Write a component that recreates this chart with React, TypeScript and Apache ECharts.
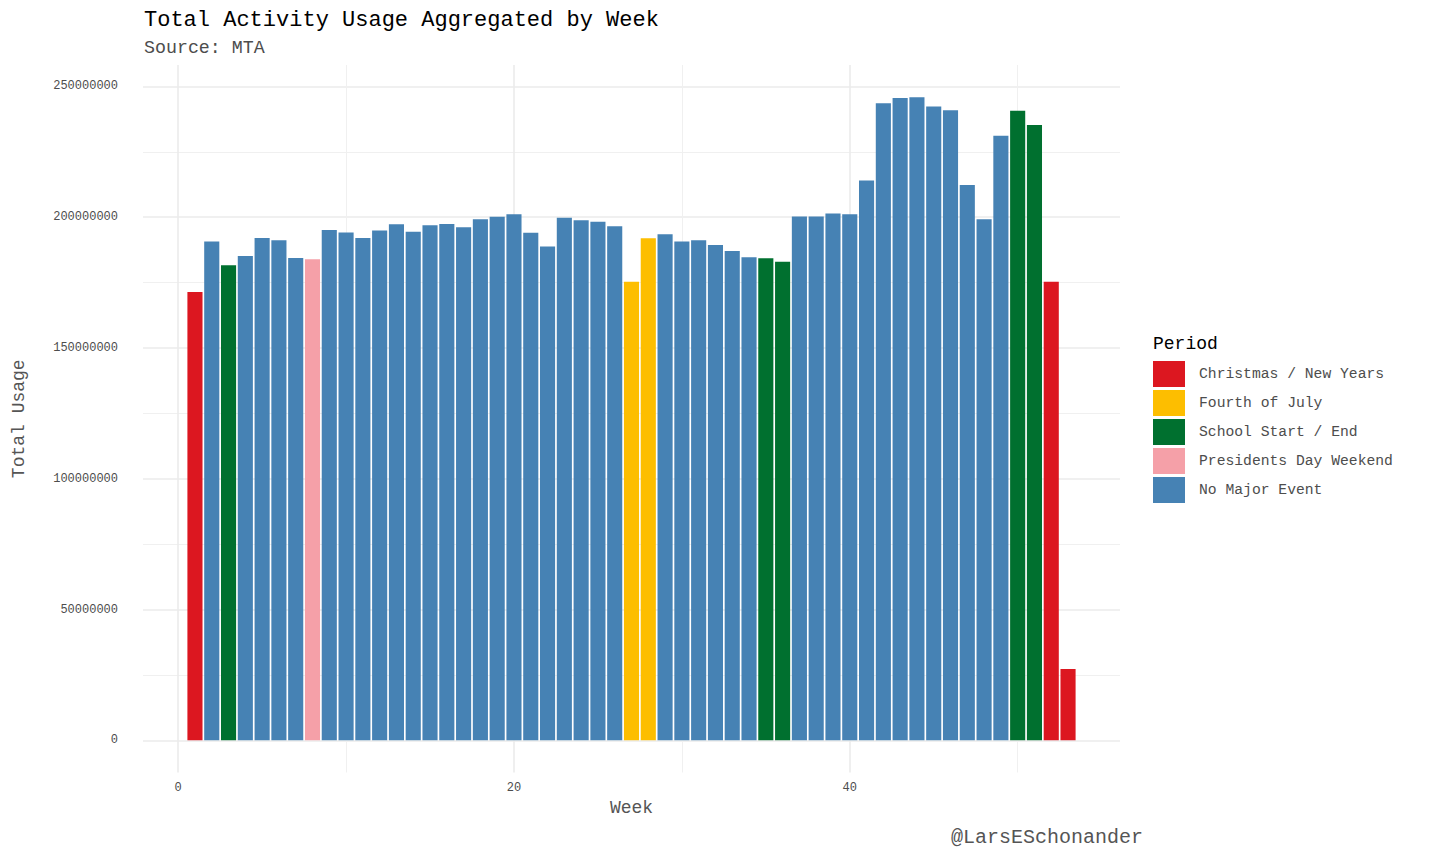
import React, { useEffect, useRef } from "react";
import * as echarts from "echarts";

const weeks = [
  1, 2, 3, 4, 5, 6, 7, 8, 9, 10, 11, 12, 13, 14, 15, 16, 17, 18, 19, 20, 21, 22, 23, 24, 25, 26, 27,
  28, 29, 30, 31, 32, 33, 34, 35, 36, 37, 38, 39, 40, 41, 42, 43, 44, 45, 46, 47, 48, 49, 50, 51, 52, 53,
];
const usage = [
  171.4, 190.7, 181.6, 185.2, 192.1, 191.2, 184.4, 183.9, 195.1, 194.2, 192.1, 194.9, 197.3, 194.4,
  196.9, 197.4, 196.2, 199.2, 200.2, 201.1, 194.1, 188.8, 199.8, 198.8, 198.3, 196.5, 175.3, 192.0,
  193.5, 190.7, 191.2, 189.4, 187.1, 184.7, 184.3, 183.0, 200.3, 200.3, 201.4, 201.1, 214.0, 243.6,
  245.6, 245.9, 242.3, 240.9, 212.3, 199.2, 231.1, 240.7, 235.3, 175.3, 27.3,
];
const periodOfWeek = [
  "Christmas / New Years", "No Major Event", "School Start / End", "No Major Event", "No Major Event",
  "No Major Event", "No Major Event", "Presidents Day Weekend", "No Major Event", "No Major Event",
  "No Major Event", "No Major Event", "No Major Event", "No Major Event", "No Major Event",
  "No Major Event", "No Major Event", "No Major Event", "No Major Event", "No Major Event",
  "No Major Event", "No Major Event", "No Major Event", "No Major Event", "No Major Event",
  "No Major Event", "Fourth of July", "Fourth of July", "No Major Event", "No Major Event",
  "No Major Event", "No Major Event", "No Major Event", "No Major Event", "School Start / End",
  "School Start / End", "No Major Event", "No Major Event", "No Major Event", "No Major Event",
  "No Major Event", "No Major Event", "No Major Event", "No Major Event", "No Major Event",
  "No Major Event", "No Major Event", "No Major Event", "No Major Event", "School Start / End",
  "School Start / End", "Christmas / New Years", "Christmas / New Years",
];
const periods = [
  "Christmas / New Years",
  "Fourth of July",
  "School Start / End",
  "Presidents Day Weekend",
  "No Major Event",
];
const periodColors = ["#DC1720", "#FDBE00", "#00702F", "#F5A0A8", "#4682B4"];
const yMajorTicks = [0, 50000000, 100000000, 150000000, 200000000, 250000000];
const yMinorTicks = [25000000, 75000000, 125000000, 175000000, 225000000];
const xMajorTicks = [0, 20, 40];
const xMinorTicks = [10, 30, 50];

const FONT = "'Liberation Mono', 'DejaVu Sans Mono', monospace";

export default function App() {
  const ref = useRef<HTMLDivElement>(null);

  useEffect(() => {
    if (!ref.current) return;
    const chart = echarts.init(ref.current, null, { renderer: "svg" });

    const maxVal = Math.max(...usage) * 1e6;
    const yPad = maxVal * 0.05;
    const xPad = (weeks[weeks.length - 1] - weeks[0] + 0.9) * 0.05;
    const xMin = weeks[0] - 0.45 - xPad;
    const xMax = weeks[weeks.length - 1] + 0.45 + xPad;

    const series: any[] = periods.map((p, i) => ({
      name: p,
      type: "bar",
      xAxisIndex: 0,
      yAxisIndex: 0,
      barGap: "-100%",
      barWidth: "90%",
      itemStyle: { color: periodColors[i] },
      data: weeks
        .map((w, k) => (periodOfWeek[k] === p ? [w, usage[k] * 1e6] : null))
        .filter((d) => d !== null),
    }));
    series.push({
      type: "line",
      xAxisIndex: 1,
      yAxisIndex: 1,
      data: [],
      silent: true,
    });

    const common = {
      axisLine: { show: false },
      axisTick: { show: false },
    };

    chart.setOption({
      animation: false,
      backgroundColor: "#ffffff",
      textStyle: { fontFamily: FONT },
      grid: { left: 143, right: 336, top: 65, bottom: 76.5, containLabel: false },
      xAxis: [
        {
          type: "value",
          min: xMin,
          max: xMax,
          ...common,
          axisTick: { show: false, customValues: xMajorTicks },
          axisLabel: {
            customValues: xMajorTicks,
            color: "#4D4D4D",
            fontSize: 12,
            fontFamily: FONT,
            margin: 9,
          },
          splitLine: { show: true, lineStyle: { color: "#EBEBEB", width: 1.6 } },
          name: "Week",
          nameLocation: "middle",
          nameGap: 26,
          nameTextStyle: { color: "#555555", fontSize: 18, fontFamily: FONT },
          z: 1,
        },
        {
          type: "value",
          min: xMin,
          max: xMax,
          ...common,
          axisTick: { show: false, customValues: xMinorTicks },
          axisLabel: { show: false, customValues: xMinorTicks },
          splitLine: { show: true, lineStyle: { color: "#F0F0F0", width: 1 } },
          z: 0,
        },
      ],
      yAxis: [
        {
          type: "value",
          min: -yPad,
          max: maxVal + yPad,
          ...common,
          axisTick: { show: false, customValues: yMajorTicks },
          axisLabel: {
            customValues: yMajorTicks,
            color: "#4D4D4D",
            fontSize: 12,
            fontFamily: FONT,
            margin: 25,
            formatter: (v: number) => String(Math.round(v)),
          },
          splitLine: { show: true, lineStyle: { color: "#EBEBEB", width: 1.6 } },
          name: "Total Usage",
          nameLocation: "middle",
          nameGap: 115,
          nameTextStyle: { color: "#555555", fontSize: 18, fontFamily: FONT },
        },
        {
          type: "value",
          min: -yPad,
          max: maxVal + yPad,
          ...common,
          axisTick: { show: false, customValues: yMinorTicks },
          axisLabel: { show: false, customValues: yMinorTicks },
          splitLine: { show: true, lineStyle: { color: "#F0F0F0", width: 1 } },
        },
      ],
      legend: {
        data: periods,
        orient: "vertical",
        left: 1153,
        top: 361,
        padding: 0,
        itemWidth: 32,
        itemHeight: 26,
        itemGap: 3,
        icon: "rect",
        selectedMode: false,
        textStyle: {
          color: "#4D4D4D",
          fontSize: 14.7,
          fontFamily: FONT,
          padding: [0, 0, 0, 9],
        },
      },
      graphic: [
        {
          type: "text",
          left: 144,
          top: 9,
          style: {
            text: "Total Activity Usage Aggregated by Week",
            font: `22px ${FONT}`,
            fill: "#000000",
          },
        },
        {
          type: "text",
          left: 144,
          top: 39,
          style: { text: "Source: MTA", font: `18.3px ${FONT}`, fill: "#4D4D4D" },
        },
        {
          type: "text",
          left: 1153,
          top: 335,
          style: { text: "Period", font: `18px ${FONT}`, fill: "#000000" },
        },
        {
          type: "text",
          right: 1456 - 1143,
          top: 827,
          style: { text: "@LarsESchonander", font: `20px ${FONT}`, fill: "#555555" },
        },
      ],
      series,
    });

    return () => chart.dispose();
  }, []);

  return <div ref={ref} style={{ width: 1456, height: 849, position: "absolute", left: 0, top: 0 }} />;
}
